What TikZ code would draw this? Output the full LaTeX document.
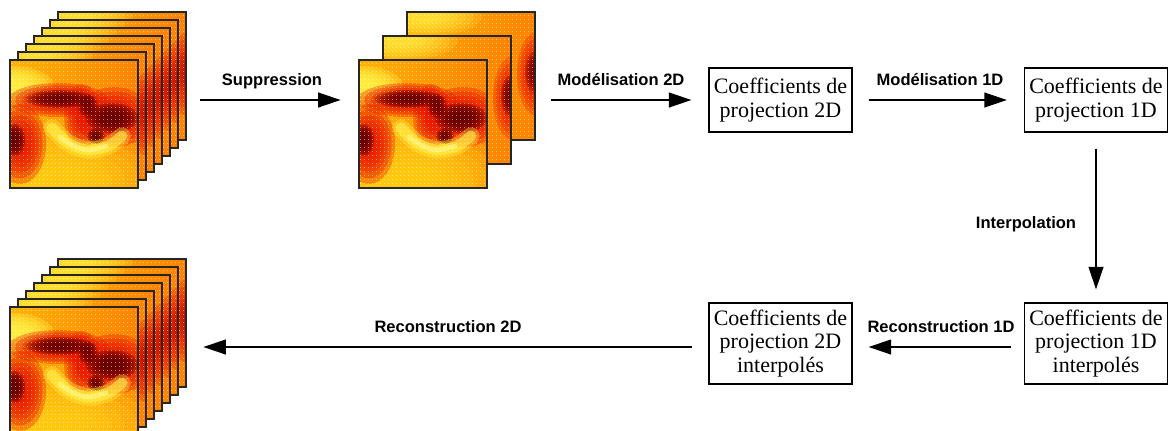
\documentclass[tikz,border=0pt]{standalone}
\usepackage{fontspec}
\setmainfont{Liberation Serif}
\setsansfont{Liberation Sans}
\usetikzlibrary{arrows.meta,calc}

\definecolor{hA}{RGB}{255,180,5}
\definecolor{hB}{RGB}{255,130,0}
\definecolor{hL}{RGB}{255,215,20}
\definecolor{hY}{RGB}{255,245,70}
\definecolor{hR}{RGB}{235,20,0}
\definecolor{hD}{RGB}{95,0,0}

\tikzset{
  heatframe/.style={draw=black!85, line width=1.1pt},
  heatgrid/.style={white, opacity=.5, line width=.5pt, dash pattern=on 1.1pt off 1.9pt},
  coefbox/.style={draw, line width=.8pt, inner sep=0pt, align=center,
    font=\fontsize{16.5}{17.5}\selectfont, minimum width=107.25pt},
  steplabel/.style={font=\sffamily\bfseries\fontsize{12.4}{14}\selectfont, anchor=base, inner sep=0pt},
  flow/.style={line width=1.7pt, -{Triangle[length=17pt,width=11pt]}},
  stackarea/.style={inner sep=0pt, minimum width=132pt, minimum height=130.5pt}
}

% soft blob: nested translucent ellipses {colour}{x}{y}{rx}{ry}{opacity per layer}
\newcommand{\blob}[6]{%
  \foreach \s in {1,.86,.72,.58,.44,.3}{%
    \fill[#1, opacity=#6] (#2,#3) ellipse [x radius={#4*\s}, y radius={#5*\s}];}}

% one frame of the stack, seen mostly by its edges; #3 = strength of the dark core
\newcommand{\heatback}[3]{%
\begin{scope}[shift={(#1,#2)}]
  \begin{scope}
    \clip (0,0) rectangle (128,128);
    \shade[left color=hA, right color=hB] (0,0) rectangle (128,128);
    \blob{hY}{20}{4}{55}{20}{.18}
    \blob{hR}{130}{62}{20}{42}{.3}
    \blob{hD}{130}{60}{12}{22}{#3}
    \foreach \yy in {3,7,...,127} \draw[heatgrid] (1,\yy) -- (127,\yy);
  \end{scope}
  \draw[heatframe] (0,0) rectangle (128,128);
\end{scope}}

% the frame at the front of a stack
\newcommand{\heatfront}[2]{%
\begin{scope}[shift={(#1,#2)}]
  \begin{scope}
    \clip (0,0) rectangle (128,128);
    \shade[left color=hA, right color=hB] (0,0) rectangle (128,128);
    \blob{hL}{60}{120}{95}{48}{.2}
    \blob{hY}{2}{26}{42}{20}{.3}
    % red wake
    \blob{hR}{48}{40}{50}{17}{.35}
    \blob{hR}{104}{57}{38}{30}{.35}
    \blob{hR}{72}{56}{18}{32}{.3}
    \blob{hR}{10}{84}{26}{40}{.35}
    % dark cores
    \blob{hD}{50}{39}{34}{9}{.3}
    \blob{hD}{102}{58}{26}{15}{.35}
    \blob{hD}{78}{46}{10}{12}{.25}
    \blob{hD}{86}{76}{9}{8}{.3}
    \blob{hD}{5}{80}{10}{16}{.35}
    % bright crescent
    \draw[hY, line width=13pt, opacity=.35, line cap=round] plot[smooth] coordinates {(42,68) (58,83) (78,90) (98,86) (112,76)};
    \draw[hY, line width=8pt, opacity=.6, line cap=round] plot[smooth] coordinates {(42,68) (58,83) (78,90) (98,86) (112,76)};
    \draw[white!40!hY, line width=3.5pt, opacity=.6, line cap=round] plot[smooth] coordinates {(50,77) (62,85) (78,90) (96,86)};
    \foreach \yy in {3,7,...,127} \draw[heatgrid] (1,\yy) -- (127,\yy);
  \end{scope}
  \draw[heatframe] (0,0) rectangle (128,128);
\end{scope}}

\begin{document}
\begin{tikzpicture}[x=0.75pt, y=-0.75pt]
\useasboundingbox (0,0) rectangle (1171,430);

% image stacks
\foreach \hx/\hy in {58/12,50/20,42/28,34/36,26/44,18/52} \heatback{\hx}{\hy}{0.05};
\heatfront{10}{60}
\heatback{407}{12}{0.25}
\heatback{383}{36}{0.3}
\heatfront{359}{60}
\foreach \hx/\hy in {58/259,50/267,42/275,34/283,26/291,18/299} \heatback{\hx}{\hy}{0.05};
\heatfront{10}{307}

\node[stackarea] (st1) at (98,100) {};
\node[stackarea] (st2) at (447,100) {};
\node[stackarea] (st3) at (98,347) {};

% coefficient boxes
\node[coefbox, minimum height=48pt] (b1) at (780.5,100) {Coefficients de\\projection 2D};
\node[coefbox, minimum height=48pt] (b2) at (1096,100) {Coefficients de\\projection 1D};
\node[coefbox, minimum height=60.75pt] (b3) at (780.5,343.5) {Coefficients de\\projection 2D\\interpolés};
\node[coefbox, minimum height=60.75pt] (b4) at (1096,343.5) {Coefficients de\\projection 1D\\interpolés};

% processing steps
\draw[flow, shorten <=10.5pt, shorten >=13.5pt] (st1.east) -- (st2.west);
\draw[flow, shorten <=12pt, shorten >=12.75pt] (st2.east) -- (b1.west);
\draw[flow, shorten <=12pt, shorten >=12.75pt] (b1.east) -- (b2.west);
\draw[flow, shorten <=12pt, shorten >=9.75pt] (b2.south) -- (b4.north);
\draw[flow, shorten <=9.75pt, shorten >=12pt] ($(b4.west)+(0,3.5)$) -- ($(b3.east)+(0,3.5)$);
\draw[flow, shorten <=12pt, shorten >=12.75pt] ($(b3.west)+(0,3.5)$) -- (st3.east);

\node[steplabel] (l1) at (272,85) {Suppression};
\node[steplabel] (l2) at (621,85) {Modélisation 2D};
\node[steplabel] (l3) at (940,85) {Modélisation 1D};
\node[steplabel] (l4) at (1026,228) {Interpolation};
\node[steplabel] (l5) at (941,332) {Reconstruction 1D};
\node[steplabel] (l6) at (448,332) {Reconstruction 2D};
\end{tikzpicture}
\end{document}
